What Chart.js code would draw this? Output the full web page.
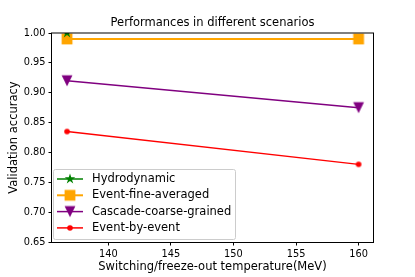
<!DOCTYPE html>
<html>
<head>
<meta charset="utf-8">
<script src="https://cdn.jsdelivr.net/npm/chart.js@4/dist/chart.umd.min.js"></script>
<style>
  html, body { margin: 0; padding: 0; background: #fff; }
  #graphCanvas { display: block; }
</style>
</head>
<body>
<canvas id="graphCanvas" width="415" height="277"></canvas>
<script>
// DATA
const temperatures = [136.7, 160];
const hydrodynamic = [1.0, null];
const eventFineAveraged = [0.99, 0.99];
const cascadeCoarseGrained = [0.92, 0.875];
const eventByEvent = [0.835, 0.78];
const xTicks = [140, 145, 150, 155, 160];
const yTicks = [0.65, 0.70, 0.75, 0.80, 0.85, 0.90, 0.95, 1.00];

const FONT = "'DejaVu Sans', sans-serif";

// marker images (matplotlib-like shapes)
function makeMarker(kind, color, size) {
    const c = document.createElement('canvas');
    c.width = 16; c.height = 16;
    const ctx = c.getContext('2d');
    const cx = 8, cy = 8, h = size / 2;
    ctx.fillStyle = color;
    ctx.beginPath();
    if (kind === 'star') {
        for (let i = 0; i < 10; i++) {
            const r = i % 2 === 0 ? h : h * 0.381966;
            const a = -Math.PI / 2 + i * Math.PI / 5;
            const px = cx + r * Math.cos(a), py = cy + r * Math.sin(a);
            if (i === 0) ctx.moveTo(px, py); else ctx.lineTo(px, py);
        }
        ctx.closePath();
    } else if (kind === 'tridown') {
        ctx.moveTo(cx - h, cy - h);
        ctx.lineTo(cx + h, cy - h);
        ctx.lineTo(cx, cy + h);
        ctx.closePath();
    } else if (kind === 'square') {
        ctx.rect(cx - h, cy - h, size, size);
    } else {
        ctx.arc(cx, cy, h, 0, Math.PI * 2);
    }
    ctx.fill();
    return c;
}

const mkStar = makeMarker('star', 'green', 11);
const mkSquare = makeMarker('square', 'orange', 10.8);
const mkTri = makeMarker('tridown', 'purple', 10.8);
const mkDot = makeMarker('circle', 'red', 5.6);

function pts(ys) {
    return temperatures.map((t, i) => ({ x: t, y: ys[i] }));
}

// SETUP BLOCK
const data = {
    datasets: [
        { label: 'Hydrodynamic', data: pts(hydrodynamic), borderColor: 'green', borderWidth: 1.5, pointStyle: mkStar, marker: mkStar },
        { label: 'Event-fine-averaged', data: pts(eventFineAveraged), borderColor: 'orange', borderWidth: 2, pointStyle: mkSquare, marker: mkSquare },
        { label: 'Cascade-coarse-grained', data: pts(cascadeCoarseGrained), borderColor: 'purple', borderWidth: 1.5, pointStyle: mkTri, marker: mkTri },
        { label: 'Event-by-event', data: pts(eventByEvent), borderColor: 'red', borderWidth: 1.5, pointStyle: mkDot, marker: mkDot }
    ].map(d => Object.assign(d, { fill: false, tension: 0, pointRadius: 5, showLine: true }))
};

// frame, title, axis labels, legend
const decorations = {
    id: 'decorations',
    afterDraw(chart) {
        const ctx = chart.ctx;
        const a = chart.chartArea;
        ctx.save();
        // frame
        ctx.strokeStyle = '#000';
        ctx.lineWidth = 1;
        ctx.strokeRect(a.left - 0.5, a.top, a.right - a.left + 1, a.bottom - a.top + 0.5);
        // title and axis labels
        ctx.fillStyle = '#000';
        ctx.textAlign = 'center';
        ctx.textBaseline = 'middle';
        ctx.font = '11.5px ' + FONT;
        ctx.fillText('Performances in different scenarios', (a.left + a.right) / 2, 23);
        ctx.fillText('Switching/freeze-out temperature(MeV)', (a.left + a.right) / 2, 267);
        ctx.save();
        ctx.translate(14, (a.top + a.bottom) / 2);
        ctx.rotate(-Math.PI / 2);
        ctx.fillText('Validation accuracy', 0, 0);
        ctx.restore();
        // legend
        const lx = 53, ly = 169, lw = 182, lh = 70;
        ctx.fillStyle = 'rgba(255,255,255,0.8)';
        ctx.strokeStyle = '#cccccc';
        ctx.beginPath();
        ctx.roundRect(lx + 0.5, ly + 0.5, lw, lh, 2);
        ctx.fill();
        ctx.stroke();
        ctx.textAlign = 'left';
        chart.data.datasets.forEach((ds, i) => {
            const yy = 179 + i * 16.3;
            ctx.strokeStyle = ds.borderColor;
            ctx.lineWidth = ds.borderWidth;
            ctx.beginPath();
            ctx.moveTo(57, yy);
            ctx.lineTo(83, yy);
            ctx.stroke();
            ctx.drawImage(ds.marker, 70 - 8, yy - 8);
            ctx.fillStyle = '#000';
            ctx.fillText(ds.label, 92, yy);
        });
        ctx.restore();
    }
};

// CONFIG BLOCK
const config = {
    type: 'line',
    data,
    options: {
        responsive: false,
        animation: false,
        devicePixelRatio: 1,
        layout: { padding: { top: 33, right: 42, left: 0, bottom: 0 } },
        plugins: {
            legend: { display: false },
            title: { display: false },
            tooltip: { enabled: false }
        },
        scales: {
            x: {
                type: 'linear',
                min: 135.5,
                max: 161.15,
                afterBuildTicks: s => { s.ticks = xTicks.map(v => ({ value: v })); },
                afterFit: s => { s.height = 35; },
                grid: { drawOnChartArea: false, drawTicks: true, tickLength: 3.5, tickColor: '#000' },
                border: { display: false },
                ticks: { color: '#000', padding: 3, font: { family: FONT, size: 9.8 }, maxRotation: 0, callback: v => String(v) }
            },
            y: {
                min: 0.65,
                max: 1.0,
                afterBuildTicks: s => { s.ticks = yTicks.map(v => ({ value: v })); },
                afterFit: s => { s.width = 52; },
                grid: { drawOnChartArea: false, drawTicks: true, tickLength: 3.5, tickColor: '#000' },
                border: { display: false },
                ticks: { color: '#000', padding: 3, font: { family: FONT, size: 9.8 }, callback: v => v.toFixed(2) }
            }
        }
    },
    plugins: [decorations]
};

// RENDER BLOCK
const graphCanvas = new Chart(
    document.getElementById('graphCanvas').getContext('2d'),
    config
);
</script>
</body>
</html>
